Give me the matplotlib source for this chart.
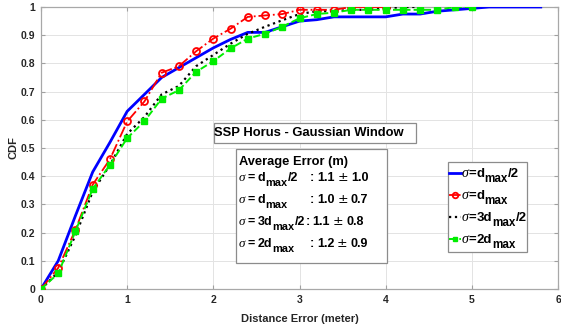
import matplotlib
matplotlib.use("Agg")
import matplotlib.pyplot as plt
from matplotlib.patches import Rectangle
from matplotlib.lines import Line2D

plt.rcParams['font.family'] = ['Liberation Sans', 'DejaVu Sans']
plt.rcParams['font.weight'] = 'bold'

# ---- data ----
x_blue = [0, 0.2, 0.4, 0.6, 0.8, 1.0, 1.2, 1.4, 1.6, 1.8, 2.0, 2.2, 2.4, 2.6, 2.8, 3.0,
          3.2, 3.4, 3.6, 3.8, 4.0, 4.2, 4.4, 4.6, 4.8, 5.0, 5.2, 5.4, 5.6, 5.8]
cdf_blue = [0, 0.10, 0.26, 0.415, 0.52, 0.63, 0.69, 0.75, 0.785, 0.82, 0.855, 0.885, 0.91,
            0.91, 0.93, 0.95, 0.955, 0.965, 0.965, 0.965, 0.965, 0.975, 0.975, 0.985,
            0.99, 0.995, 1.0, 1.0, 1.0, 1.0]

x_red = [0, 0.2, 0.4, 0.6, 0.8, 1.0, 1.2, 1.4, 1.6, 1.8, 2.0, 2.2, 2.4, 2.6, 2.8, 3.0,
         3.2, 3.4, 3.6, 3.8, 4.0]
cdf_red = [0, 0.075, 0.21, 0.37, 0.46, 0.594, 0.665, 0.767, 0.79, 0.843, 0.888, 0.923,
           0.965, 0.97, 0.975, 0.99, 0.99, 0.99, 1.0, 1.0, 1.0]

x_black = [0, 0.2, 0.4, 0.6, 0.8, 1.0, 1.2, 1.4, 1.6, 1.8, 2.0, 2.2, 2.4, 2.6, 2.8, 3.0,
           3.2, 3.4, 3.6, 3.8, 4.0, 4.2, 4.4]
cdf_black = [0, 0.06, 0.19, 0.345, 0.44, 0.55, 0.61, 0.69, 0.72, 0.79, 0.83, 0.87, 0.905,
             0.93, 0.953, 0.975, 0.985, 0.985, 0.99, 0.99, 0.995, 1.0, 1.0]

x_green = [0, 0.2, 0.4, 0.6, 0.8, 1.0, 1.2, 1.4, 1.6, 1.8, 2.0, 2.2, 2.4, 2.6, 2.8, 3.0,
           3.2, 3.4, 3.6, 3.8, 4.0, 4.2, 4.4, 4.6, 4.8, 5.0]
cdf_green = [0, 0.055, 0.205, 0.355, 0.44, 0.535, 0.595, 0.675, 0.705, 0.77, 0.808, 0.853,
             0.888, 0.905, 0.93, 0.96, 0.975, 0.98, 0.99, 0.99, 0.99, 0.99, 0.99, 0.99,
             1.0, 1.0]

# label pieces: (prefix before subscript, subscript, suffix)
legend_prefix = ["d", "d", "3d", "2d"]
legend_suffix = ["/2", "", "/2", ""]
sub_text = "max"

title_box = "SSP Horus - Gaussian Window"
err_header = "Average Error (m)"
err_mean = [1.1, 1.0, 1.1, 1.2]
err_std = [1.0, 0.7, 0.8, 0.9]

xticks = [0, 1, 2, 3, 4, 5, 6]
yticks = [0, 0.1, 0.2, 0.3, 0.4, 0.5, 0.6, 0.7, 0.8, 0.9, 1]
ytick_labels = ["0", "0.1", "0.2", "0.3", "0.4", "0.5", "0.6", "0.7", "0.8", "0.9", "1"]

colors = ['#0000ff', '#ff0000', '#000000', '#00ee00']

W, H = 561, 328
fig = plt.figure(figsize=(W / 100, H / 100), dpi=100)
ax = fig.add_axes([41 / W, 1 - 289 / H, (558 - 41) / W, (289 - 7) / H])

style_blue = dict(ls='-', color=colors[0], lw=2.0)
style_red = dict(ls='-.', color=colors[1], lw=1.3, marker='o', ms=5, mfc='none',
                 mec=colors[1], mew=1.3)
style_black = dict(ls=':', color=colors[2], lw=1.6)
style_green = dict(ls='--', color=colors[3], lw=1.4, marker='s', ms=4, mfc=colors[3],
                   mec=colors[3])

ax.plot(x_blue, cdf_blue, zorder=3, **style_blue)
ax.plot(x_red, cdf_red, zorder=4, **style_red)
ax.plot(x_black, cdf_black, zorder=3, **style_black)
ax.plot(x_green, cdf_green, zorder=4, **style_green)

ax.set_xlim(0, 6)
ax.set_ylim(0, 1)
ax.set_xticks(xticks)
ax.set_yticks(yticks)
ax.set_yticklabels(ytick_labels)
ax.grid(True, color='#e3e3e3', lw=0.7)
ax.set_axisbelow(True)
ax.tick_params(direction='in', length=3, color='#a0a0a0', labelsize=7.5,
               labelcolor='#262626', top=True, right=True, pad=4)
for lab in ax.get_xticklabels() + ax.get_yticklabels():
    lab.set_fontweight('bold')
for s in ax.spines.values():
    s.set_color('#a8a8a8')
    s.set_linewidth(0.9)

ax.set_xlabel("Distance Error (meter)", fontsize=8, fontweight='bold', color='#262626', labelpad=7)
ax.set_ylabel("CDF", fontsize=8, fontweight='bold', color='#262626', labelpad=2)


def fx(px):
    return px / W


def fy(py):
    return 1 - py / H


renderer = fig.canvas.get_renderer()


def put(px, py, s, fs, **kw):
    t = fig.text(fx(px), fy(py), s, fontsize=fs, ha='left', va='baseline',
                 color='black', zorder=12, **kw)
    return px + t.get_window_extent(renderer).width


def rich(px, py, prefix, suffix, fs, eq_gap):
    x = put(px, py, "\u03c3", fs * 1.05, family='Liberation Serif', style='italic',
            fontweight='normal')
    x += eq_gap
    x = put(x, py, "=", fs, fontweight='bold')
    x += eq_gap
    x = put(x, py, prefix, fs, fontweight='bold')
    x = put(x, py + fs * 0.55, sub_text, fs * 0.88, fontweight='bold')
    if suffix:
        x = put(x, py, suffix, fs, fontweight='bold')
    return x


# title box
ax.add_patch(Rectangle((fx(214), fy(143)), fx(416) - fx(214), fy(123) - fy(143),
                       transform=fig.transFigure, facecolor='white', edgecolor='#8c8c8c',
                       lw=0.9, zorder=5, clip_on=False))
fig.text(fx(309), fy(133.5), title_box, ha='center', va='center', fontsize=9.4,
         fontweight='bold', color='black', zorder=12)

# average error box
ax.add_patch(Rectangle((fx(236), fy(263)), fx(387) - fx(236), fy(149) - fy(263),
                       transform=fig.transFigure, facecolor='white', edgecolor='#8c8c8c',
                       lw=0.9, zorder=5, clip_on=False))
put(239, 165, err_header, 9.3, fontweight='bold')
row_y = [181, 203, 225, 247]
colon_x = [310, 310, None, 310]
for i in range(4):
    end = rich(239, row_y[i], legend_prefix[i], legend_suffix[i], 9.0, 2.5)
    cx = colon_x[i] if colon_x[i] is not None else end + 0.5
    x = put(cx, row_y[i], ":", 9.0, fontweight='bold')
    x = put(x + 2.5, row_y[i], "%.1f" % err_mean[i], 9.0, fontweight='bold')
    x = put(x + 3, row_y[i], "\u00b1", 9.0, fontweight='normal', family='DejaVu Sans')
    put(x + 3, row_y[i], "%.1f" % err_std[i], 9.0, fontweight='bold')

# legend (manual)
fig.add_artist(Rectangle((fx(448), fy(252)), fx(527) - fx(448), fy(162) - fy(252),
                         transform=fig.transFigure, facecolor='white', edgecolor='#8c8c8c',
                         lw=0.9, zorder=10))
leg_styles = [style_blue, style_red, style_black, style_green]
leg_y = [173, 195, 217, 239]
for i in range(4):
    st = dict(leg_styles[i])
    mk = st.pop('marker', None)
    ln = Line2D([fx(449), fx(461)], [fy(leg_y[i]), fy(leg_y[i])], transform=fig.transFigure,
                zorder=11, **{k: v for k, v in st.items() if k not in ('ms', 'mfc', 'mec', 'mew')})
    fig.add_artist(ln)
    if mk:
        mkl = Line2D([fx(455)], [fy(leg_y[i])], transform=fig.transFigure, ls='none',
                     marker=mk, ms=st['ms'] * 0.8, mfc=st['mfc'], mec=st['mec'],
                     mew=st.get('mew', 1.0), zorder=11)
        fig.add_artist(mkl)
    rich(462, leg_y[i] + 4, legend_prefix[i], legend_suffix[i], 9.5, 0)

fig.savefig("out.png", dpi=100)
